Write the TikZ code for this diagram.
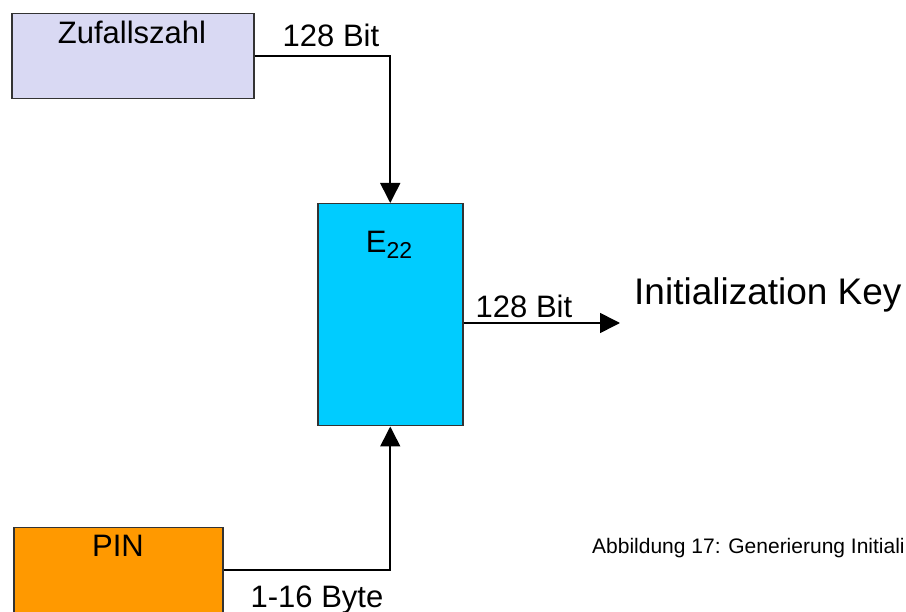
\documentclass[tikz,border=0pt]{standalone}
\usepackage{fontspec}
\setmainfont{Liberation Sans}
\usetikzlibrary{arrows.meta}
\definecolor{lav}{HTML}{D9D9F3}
\definecolor{cyanbox}{HTML}{00CCFF}
\definecolor{orangebox}{HTML}{FF9900}
\definecolor{edge}{HTML}{333333}
\tikzset{
  box/.style={draw=edge, line width=1.5pt, inner sep=0pt, anchor=north west},
  lbl/.style={inner sep=0pt, anchor=base, font=\fontsize{31}{36}\selectfont},
  conn/.style={line width=1.6pt, black, -{Triangle[length=20pt,width=20pt]}},
  plain/.style={line width=1.6pt, black}
}
\begin{document}
\begin{tikzpicture}[x=1pt,y=-1pt]
\useasboundingbox (0,0) rectangle (906,612);
\begin{scope}
\clip (0,0) rectangle (906,612);
% boxes
\node[box, fill=lav, minimum width=242pt, minimum height=85pt] (z) at (11,13) {};
\node[box, fill=cyanbox, minimum width=145pt, minimum height=222pt] (e) at (317,203) {};
\node[box, fill=orangebox, minimum width=209pt, minimum height=85pt] (p) at (13,527) {};
% box texts
\node[lbl] (zt) at (132,44) {Zufallszahl};
\node[lbl] (et) at (389,253) {E\raisebox{-6pt}{\fontsize{23}{23}\selectfont 22}};
\node[lbl] (pt) at (118,557) {PIN};
% connector labels
\node[lbl] (l1) at (331,47) {128 Bit};
\node[lbl] (l2) at (524,318) {128 Bit};
\node[lbl] (l3) at (317,607) {1-16 Byte};
% output
\coordinate (out) at (620,323);
\node[inner sep=0pt, anchor=base west, font=\fontsize{37}{42}\selectfont] (key) at (634,305) {Initialization Key};
\node[inner sep=0pt, anchor=base west, font=\fontsize{21}{25}\selectfont] (cap) at (592,553) {Abbildung 17: Generierung Initiali};
% connectors
\draw[conn] (z.east) -| (e.north);
\draw[conn] (e.east |- out) -- (out);
\draw[conn] (p.east) -| (e.south);
\end{scope}
\end{tikzpicture}
\end{document}
